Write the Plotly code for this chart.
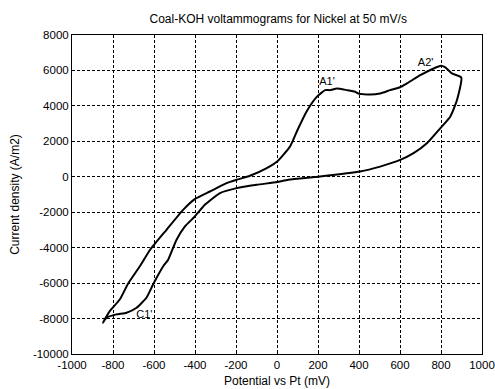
import plotly.graph_objects as go

# Closed voltammogram loop (Potential mV, Current density A/m2)
potential = [-849, -816, -767, -726, -669, -619, -539, -458, -401, -327, -246, -197, -132, -50, 1, 63, 100,
             145, 194, 235, 259, 292, 341, 381, 397, 455, 503, 552, 600, 634, 699, 764, 800, 821, 853, 899,
             878, 845, 796, 731, 666, 601, 503, 405, 210, 55, 1, -99, -197, -278, -352, -401, -449, -490,
             -531, -555, -604, -637, -685, -734, -783, -832, -849]
current = [-8230, -7580, -6925, -6020, -5050, -4118, -2990, -1865, -1260, -830, -360, -170, 55, 490, 860, 1700, 2640,
           3700, 4510, 4890, 4890, 4985, 4890, 4795, 4700, 4640, 4700, 4890, 5050, 5270, 5730, 6110, 6260, 6170, 5830, 5600,
           4330, 3390, 2735, 1890, 1330, 950, 575, 295, 14, -170, -300, -450, -640, -920, -1580, -2240, -2800, -3550,
           -4680, -5049, -6062, -6826, -7388, -7670, -7765, -7950, -8230]

label_text = ["A1'", "A2'", "C1'"]
label_x = [244, 725, -647]
label_y = [5360, 6430, -7800]

x_ticks = [-1000, -800, -600, -400, -200, 0, 200, 400, 600, 800, 1000]
y_ticks = [-10000, -8000, -6000, -4000, -2000, 0, 2000, 4000, 6000, 8000]

FONT = "Liberation Sans, Arial"

fig = go.Figure()
fig.add_trace(go.Scatter(x=potential, y=current, mode="lines",
                         line=dict(color="black", width=2, shape="spline", smoothing=0.5),
                         showlegend=False))
fig.add_trace(go.Scatter(x=label_x, y=label_y, mode="text", text=label_text,
                         textfont=dict(family=FONT, size=11, color="black"),
                         showlegend=False))

axis_common = dict(showline=True, linecolor="black", linewidth=1, mirror=True,
                   showgrid=True, gridcolor="black", griddash="3px,2px", gridwidth=1,
                   zeroline=False, ticks="inside", ticklen=3, tickcolor="black",
                   automargin=False,
                   tickfont=dict(family=FONT, size=11.5, color="black"))

fig.update_xaxes(range=[-1000, 1000], tickvals=x_ticks, ticktext=[str(v) for v in x_ticks],
                 title=dict(text="Potential vs Pt (mV)", standoff=6,
                            font=dict(family=FONT, size=12, color="black")),
                 **axis_common)
fig.update_yaxes(range=[-10000, 8000], tickvals=y_ticks, ticktext=[str(v) for v in y_ticks],
                 title=dict(text="Current density (A/m2)", standoff=10,
                            font=dict(family=FONT, size=12, color="black")),
                 **axis_common)

fig.update_layout(
    width=495, height=389,
    margin=dict(l=72, r=13, t=35, b=35),
    paper_bgcolor="white", plot_bgcolor="white",
    title=dict(text="Coal-KOH voltammograms for Nickel at 50 mV/s", x=0.562, xanchor="center",
               y=1 - 19 / 389, yanchor="middle",
               font=dict(family=FONT, size=12, color="black")),
)
fig.write_html("out.html")
